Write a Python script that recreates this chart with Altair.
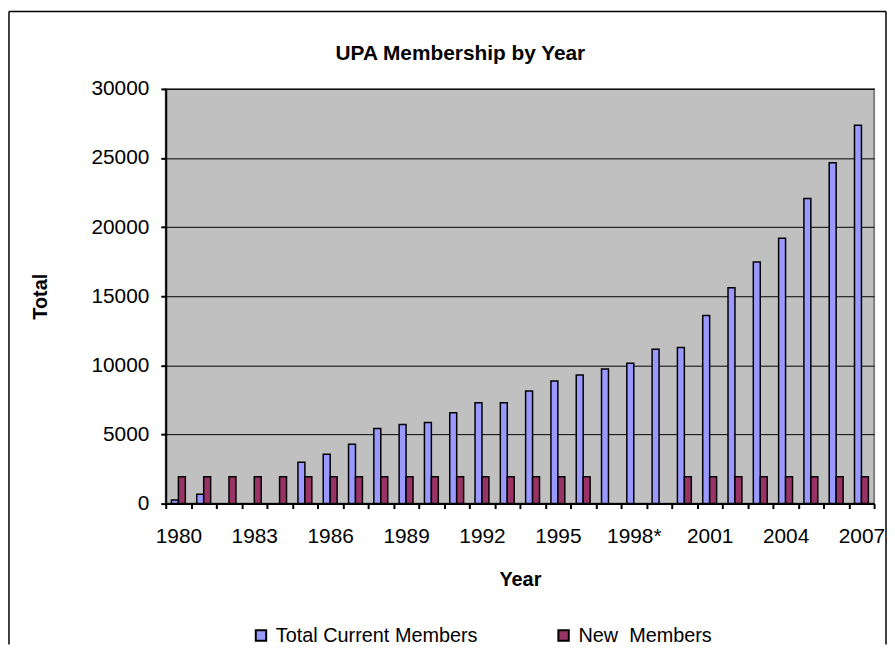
import altair as alt
import pandas as pd

# ---- data ----
years = ["1980", "1981", "1982", "1983", "1984", "1985", "1986", "1987", "1988", "1989",
         "1990", "1991", "1992", "1993", "1994", "1995", "1996", "1997", "1998*", "1999",
         "2000", "2001", "2002", "2003", "2004", "2005", "2006", "2007"]
total_members = [265, 670, None, None, None, 3000, 3570, 4290, 5430, 5720,
                 5860, 6580, 7300, 7290, 8150, 8870, 9300, 9730, 10160, 11160,
                 11300, 13600, 15610, 17470, 19200, 22070, 24650, 27370]
new_members = [1950, 1950, 1950, 1950, 1950, 1950, 1950, 1950, 1950, 1950,
               1950, 1950, 1950, 1950, 1950, 1950, 1950, None, None, None,
               1950, 1950, 1950, 1950, 1950, 1950, 1950, 1950]
series_names = ["Total Current Members", "New\u00a0 Members"]
series_colors = ["#9999FF", "#993366"]
outline_colors = ["black", "black"]
shown_labels = years[::3]
y_ticks = [0, 5000, 10000, 15000, 20000, 25000, 30000]

rows = []
for y, t, n in zip(years, total_members, new_members):
    if t is not None:
        rows.append({"year": y, "series": series_names[0], "value": t})
    if n is not None:
        rows.append({"year": y, "series": series_names[1], "value": n})
df = pd.DataFrame(rows)

FONT = "Liberation Sans"
label_list = "[" + ",".join("'" + s + "'" for s in shown_labels) + "]"

legend = alt.Legend(title=None, orient="none", legendX=86, legendY=541,
                    direction="horizontal", columnPadding=76,
                    symbolType="square", symbolSize=110, symbolStrokeWidth=2,
                    labelFontSize=20, labelFont=FONT, labelColor="black",
                    labelLimit=500, labelOffset=5, padding=0)

bars = alt.Chart(df).mark_bar(strokeWidth=1.5).encode(
    x=alt.X("year:N", sort=years,
            scale=alt.Scale(paddingInner=0, paddingOuter=0),
            axis=alt.Axis(title="Year", labelAngle=0, tickBand="extent",
                          labelExpr=f"indexof({label_list}, datum.value) >= 0 ? datum.label : ''",
                          labelOverlap=False, labelPadding=17, titlePadding=24)),
    xOffset=alt.XOffset("series:N", sort=series_names,
                        scale=alt.Scale(domain=series_names, paddingInner=0, paddingOuter=0.82)),
    y=alt.Y("value:Q", scale=alt.Scale(domain=[0, 30000], nice=False),
            axis=alt.Axis(title="Total", values=y_ticks, format="d", grid=True,
                          labelPadding=12, titlePadding=41)),
    color=alt.Color("series:N", sort=series_names,
                    scale=alt.Scale(domain=series_names, range=series_colors),
                    legend=legend),
    stroke=alt.Stroke("series:N", sort=series_names,
                      scale=alt.Scale(domain=series_names, range=outline_colors),
                      legend=legend),
)

border = alt.Chart(alt.Data(values=[{"k": 1}])).mark_rule(color="black", strokeWidth=1.5)
left = border.encode(x=alt.value(-158), y=alt.value(-78), y2=alt.value(560))
top = border.encode(x=alt.value(-158), x2=alt.value(726), y=alt.value(-78))
right = border.encode(x=alt.value(726), y=alt.value(-78), y2=alt.value(560))

chart = alt.layer(bars, left, top, right).properties(
    width=714, height=418, padding=0, background="white",
    title=alt.TitleParams("UPA Membership by Year", font=FONT, fontSize=21,
                          fontWeight="bold", color="black", dx=-60, offset=-54,
                          frame="group"),
).configure_view(
    fill="#C0C0C0", stroke="#808080", strokeWidth=2
).configure_axis(
    domainColor="black", domainWidth=2, tickColor="black", tickWidth=2, tickSize=5,
    gridColor="black", gridWidth=1, labelFont=FONT, labelFontSize=21, labelColor="black",
    titleFont=FONT, titleFontSize=20, titleFontWeight="bold", titleColor="black",
)

chart.save("out.html", embed_options={"renderer": "svg", "actions": False})
